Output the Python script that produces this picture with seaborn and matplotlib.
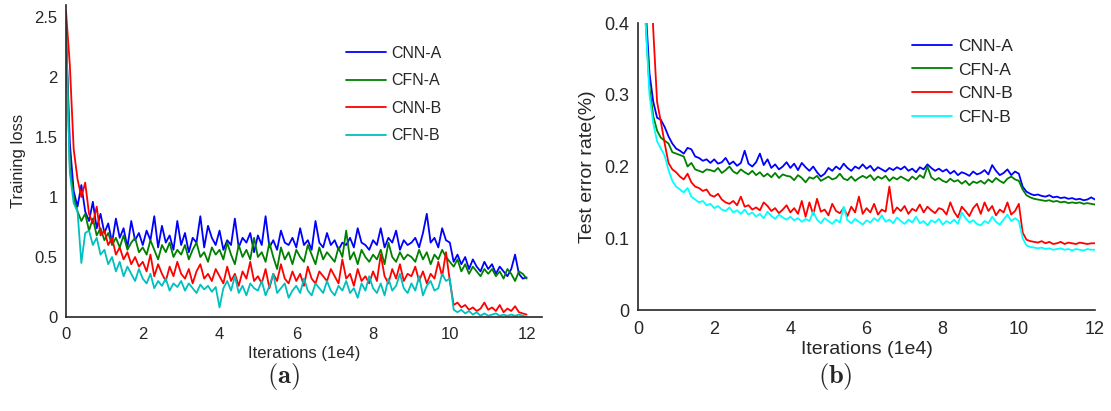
import numpy as np
import pandas as pd
import matplotlib
matplotlib.use("Agg")
import matplotlib.pyplot as plt
import seaborn as sns

# ---- data ----
series_names = ["CNN-A", "CFN-A", "CNN-B", "CFN-B"]

# (a) training loss, x = 0.0 .. 12.0 (step 0.1, in 1e4 iterations)
train_x = np.round(np.arange(121) * 0.1, 1)
train_cnn_a = [
    2.35, 1.45, 1.05, 0.92, 1.10, 0.88, 0.80, 0.96, 0.74, 0.86,
    0.70, 0.78, 0.62, 0.82, 0.66, 0.74, 0.58, 0.80, 0.64, 0.70,
    0.60, 0.72, 0.64, 0.84, 0.58, 0.76, 0.62, 0.68, 0.56, 0.80,
    0.60, 0.70, 0.54, 0.66, 0.62, 0.84, 0.58, 0.76, 0.66, 0.60,
    0.72, 0.56, 0.64, 0.60, 0.82, 0.58, 0.66, 0.62, 0.70, 0.54,
    0.68, 0.60, 0.84, 0.58, 0.64, 0.56, 0.72, 0.62, 0.60, 0.66,
    0.58, 0.74, 0.60, 0.64, 0.56, 0.80, 0.62, 0.58, 0.70, 0.60,
    0.64, 0.56, 0.62, 0.60, 0.66, 0.58, 0.74, 0.62, 0.60, 0.56,
    0.64, 0.60, 0.74, 0.58, 0.66, 0.62, 0.72, 0.56, 0.64, 0.60,
    0.62, 0.66, 0.58, 0.70, 0.86, 0.62, 0.66, 0.58, 0.74, 0.64,
    0.62, 0.46, 0.52, 0.44, 0.50, 0.40, 0.48, 0.42, 0.38, 0.46,
    0.40, 0.44, 0.36, 0.42, 0.38, 0.34, 0.40, 0.52, 0.36, 0.32,
    0.33]
train_cfn_a = [
    2.40, 1.25, 1.00, 0.88, 0.80, 0.86, 0.72, 0.82, 0.68, 0.74,
    0.64, 0.70, 0.60, 0.66, 0.58, 0.68, 0.56, 0.62, 0.66, 0.54,
    0.58, 0.52, 0.64, 0.56, 0.48, 0.60, 0.54, 0.62, 0.50, 0.56,
    0.52, 0.60, 0.48, 0.56, 0.62, 0.50, 0.54, 0.46, 0.58, 0.52,
    0.56, 0.48, 0.62, 0.52, 0.44, 0.60, 0.50, 0.56, 0.48, 0.66,
    0.50, 0.54, 0.46, 0.62, 0.50, 0.40, 0.58, 0.48, 0.54, 0.44,
    0.56, 0.50, 0.46, 0.60, 0.52, 0.44, 0.58, 0.48, 0.54, 0.50,
    0.46, 0.58, 0.50, 0.72, 0.48, 0.54, 0.44, 0.56, 0.50, 0.46,
    0.52, 0.48, 0.56, 0.44, 0.62, 0.50, 0.46, 0.54, 0.48, 0.52,
    0.50, 0.46, 0.56, 0.48, 0.54, 0.44, 0.52, 0.48, 0.56, 0.50,
    0.46, 0.42, 0.48, 0.38, 0.44, 0.36, 0.42, 0.38, 0.34, 0.40,
    0.36, 0.40, 0.34, 0.38, 0.32, 0.40, 0.36, 0.30, 0.38, 0.36,
    0.32]
train_cnn_b = [
    2.55, 2.10, 1.40, 1.15, 1.00, 1.12, 0.86, 0.78, 0.92, 0.68,
    0.72, 0.60, 0.66, 0.52, 0.58, 0.48, 0.54, 0.44, 0.50, 0.42,
    0.46, 0.38, 0.52, 0.34, 0.44, 0.36, 0.30, 0.42, 0.34, 0.46,
    0.36, 0.32, 0.40, 0.28, 0.38, 0.44, 0.32, 0.36, 0.30, 0.40,
    0.34, 0.28, 0.42, 0.30, 0.36, 0.26, 0.38, 0.32, 0.46, 0.30,
    0.34, 0.28, 0.40, 0.24, 0.36, 0.30, 0.44, 0.32, 0.28, 0.38,
    0.30, 0.36, 0.26, 0.42, 0.32, 0.28, 0.38, 0.34, 0.30, 0.40,
    0.34, 0.28, 0.48, 0.32, 0.36, 0.26, 0.40, 0.30, 0.34, 0.28,
    0.38, 0.30, 0.52, 0.34, 0.28, 0.40, 0.32, 0.44, 0.30, 0.36,
    0.34, 0.42, 0.30, 0.38, 0.28, 0.36, 0.32, 0.46, 0.34, 0.54,
    0.30, 0.10, 0.12, 0.08, 0.10, 0.06, 0.08, 0.05, 0.07, 0.12,
    0.06, 0.08, 0.05, 0.10, 0.04, 0.07, 0.05, 0.09, 0.04, 0.03,
    0.02]
train_cfn_b = [
    2.35, 1.20, 0.95, 0.88, 0.45, 0.70, 0.72, 0.60, 0.66, 0.52,
    0.56, 0.44, 0.50, 0.38, 0.46, 0.34, 0.42, 0.36, 0.30, 0.40,
    0.32, 0.28, 0.36, 0.24, 0.30, 0.26, 0.32, 0.22, 0.28, 0.25,
    0.30, 0.22, 0.28, 0.24, 0.20, 0.27, 0.23, 0.26, 0.21, 0.25,
    0.08, 0.24, 0.30, 0.22, 0.34, 0.20, 0.26, 0.18, 0.28, 0.24,
    0.22, 0.30, 0.18, 0.26, 0.36, 0.20, 0.24, 0.28, 0.16, 0.22,
    0.26, 0.20, 0.32, 0.22, 0.18, 0.28, 0.24, 0.20, 0.30, 0.22,
    0.18, 0.26, 0.22, 0.30, 0.20, 0.24, 0.16, 0.28, 0.22, 0.34,
    0.24, 0.20, 0.28, 0.18, 0.32, 0.22, 0.26, 0.36, 0.24, 0.20,
    0.28, 0.22, 0.34, 0.18, 0.26, 0.30, 0.22, 0.24, 0.36, 0.30,
    0.32, 0.06, 0.04, 0.06, 0.03, 0.05, 0.02, 0.04, 0.01, 0.03,
    0.01, 0.02, 0.03, 0.01, 0.02, 0.01, 0.02, 0.01, 0.02, 0.01,
    0.00]

# (b) test error rate, x = 0.2 .. 12.0 (step 0.1)
test_x = np.round(np.arange(2, 121) * 0.1, 1)
test_cnn_a = [
    0.420, 0.330, 0.290, 0.268, 0.265, 0.255, 0.242, 0.232,
    0.225, 0.222, 0.218, 0.226, 0.224, 0.214, 0.212, 0.208, 0.210, 0.205,
    0.210, 0.204, 0.206, 0.212, 0.203, 0.207, 0.201, 0.205, 0.222, 0.204,
    0.200, 0.206, 0.218, 0.202, 0.210, 0.198, 0.203, 0.196, 0.200, 0.206,
    0.198, 0.204, 0.195, 0.205, 0.199, 0.194, 0.200, 0.192, 0.186, 0.190,
    0.198, 0.194, 0.200, 0.196, 0.204, 0.198, 0.194, 0.200, 0.197, 0.203,
    0.197, 0.201, 0.194, 0.199, 0.196, 0.193, 0.198, 0.195, 0.199, 0.196,
    0.200, 0.194, 0.197, 0.192, 0.199, 0.196, 0.203, 0.198, 0.194, 0.197,
    0.193, 0.196, 0.190, 0.194, 0.188, 0.192, 0.190, 0.187, 0.193, 0.189,
    0.191, 0.195, 0.189, 0.202, 0.194, 0.188, 0.191, 0.196, 0.188, 0.193,
    0.190, 0.172, 0.165, 0.162, 0.160, 0.161, 0.159, 0.158, 0.160, 0.157,
    0.158, 0.156, 0.157, 0.155, 0.156, 0.154, 0.155, 0.153, 0.154, 0.157,
    0.154]
test_cfn_a = [
    0.400, 0.310, 0.270, 0.250, 0.240, 0.236, 0.232, 0.220,
    0.218, 0.216, 0.214, 0.200, 0.205, 0.196, 0.194, 0.192, 0.196, 0.195,
    0.193, 0.198, 0.191, 0.195, 0.200, 0.193, 0.190, 0.196, 0.192, 0.189,
    0.194, 0.188, 0.192, 0.186, 0.190, 0.185, 0.191, 0.184, 0.189, 0.187,
    0.186, 0.181, 0.188, 0.184, 0.178, 0.185, 0.183, 0.187, 0.180, 0.183,
    0.186, 0.182, 0.184, 0.190, 0.183, 0.181, 0.186, 0.180, 0.184, 0.187,
    0.184, 0.188, 0.181, 0.186, 0.183, 0.187, 0.180, 0.185, 0.182, 0.186,
    0.183, 0.180, 0.186, 0.182, 0.188, 0.184, 0.200, 0.185, 0.181, 0.184,
    0.180, 0.178, 0.183, 0.179, 0.181, 0.176, 0.180, 0.174, 0.179, 0.177,
    0.180, 0.176, 0.182, 0.178, 0.184, 0.180, 0.177, 0.183, 0.186, 0.182,
    0.180, 0.168, 0.160, 0.157, 0.155, 0.154, 0.153, 0.152, 0.153, 0.151,
    0.152, 0.150, 0.151, 0.149, 0.150, 0.149, 0.150, 0.148, 0.149, 0.148,
    0.147]
test_cnn_b = [
    0.620, 0.500, 0.390, 0.290, 0.262, 0.232, 0.205, 0.196,
    0.192, 0.186, 0.182, 0.190, 0.178, 0.172, 0.170, 0.166, 0.168, 0.160,
    0.158, 0.162, 0.154, 0.150, 0.148, 0.152, 0.146, 0.158, 0.144, 0.146,
    0.140, 0.143, 0.139, 0.150, 0.145, 0.138, 0.142, 0.135, 0.140, 0.146,
    0.136, 0.142, 0.134, 0.152, 0.130, 0.150, 0.133, 0.155, 0.137, 0.140,
    0.132, 0.148, 0.138, 0.135, 0.142, 0.131, 0.144, 0.136, 0.158, 0.134,
    0.142, 0.136, 0.148, 0.133, 0.140, 0.137, 0.172, 0.135, 0.143, 0.138,
    0.145, 0.134, 0.141, 0.138, 0.147, 0.136, 0.144, 0.139, 0.135, 0.142,
    0.140, 0.133, 0.150, 0.137, 0.129, 0.144, 0.138, 0.131, 0.142, 0.148,
    0.134, 0.150, 0.138, 0.145, 0.132, 0.140, 0.136, 0.150, 0.133, 0.138,
    0.148, 0.108, 0.098, 0.096, 0.095, 0.094, 0.096, 0.093, 0.095, 0.092,
    0.093, 0.095, 0.092, 0.094, 0.093, 0.092, 0.094, 0.093, 0.092, 0.093,
    0.093]
test_cfn_b = [
    0.400, 0.300, 0.260, 0.235, 0.225, 0.215, 0.195, 0.180,
    0.172, 0.168, 0.164, 0.170, 0.158, 0.154, 0.150, 0.152, 0.146, 0.148,
    0.142, 0.145, 0.140, 0.138, 0.143, 0.136, 0.139, 0.134, 0.140, 0.133,
    0.136, 0.130, 0.134, 0.128, 0.137, 0.131, 0.127, 0.133, 0.129, 0.126,
    0.130, 0.125, 0.128, 0.123, 0.127, 0.124, 0.137, 0.126, 0.121, 0.128,
    0.124, 0.120, 0.126, 0.122, 0.144, 0.125, 0.121, 0.127, 0.123, 0.119,
    0.125, 0.122, 0.128, 0.124, 0.132, 0.123, 0.126, 0.121, 0.129, 0.124,
    0.120, 0.126, 0.122, 0.130, 0.121, 0.124, 0.118, 0.125, 0.122, 0.127,
    0.119, 0.124, 0.121, 0.126, 0.120, 0.136, 0.128, 0.122, 0.125, 0.120,
    0.118, 0.124, 0.121, 0.130, 0.123, 0.119, 0.126, 0.133, 0.124, 0.128,
    0.124, 0.100, 0.090, 0.088, 0.087, 0.086, 0.087, 0.085, 0.086, 0.084,
    0.085, 0.086, 0.084, 0.085, 0.083, 0.085, 0.084, 0.083, 0.085, 0.084,
    0.084]


def to_long(x, values):
    """Stack the four series into one long frame for seaborn"""
    frames = []
    for name, vals in zip(series_names, values):
        frames.append(pd.DataFrame({"x": x, "y": vals, "model": name}))
    return pd.concat(frames, ignore_index=True)


df_train = to_long(train_x, [train_cnn_a, train_cfn_a, train_cnn_b, train_cfn_b])
df_test = to_long(test_x, [test_cnn_a, test_cfn_a, test_cnn_b, test_cfn_b])

pal_train = {"CNN-A": "#0000ff", "CFN-A": "#008000", "CNN-B": "#ff0000", "CFN-B": "#00bfbf"}
pal_test = {"CNN-A": "#0000ff", "CFN-A": "#008000", "CNN-B": "#ff0000", "CFN-B": "#00ffff"}

sns.set_style("white")
plt.rcParams["font.family"] = ["Liberation Sans", "DejaVu Sans"]
plt.rcParams["mathtext.fontset"] = "cm"
plt.rcParams["axes.edgecolor"] = "#262626"
plt.rcParams["xtick.color"] = "#262626"
plt.rcParams["ytick.color"] = "#262626"

fig = plt.figure(figsize=(11.11, 4.11), dpi=100)
ax1 = fig.add_axes([0.0594, 0.2287, 0.4284, 0.759])
ax2 = fig.add_axes([0.5743, 0.2457, 0.4113, 0.6983])

sns.lineplot(data=df_train, x="x", y="y", hue="model", palette=pal_train,
             linewidth=1.3, ax=ax1, sort=False)
sns.lineplot(data=df_test, x="x", y="y", hue="model", palette=pal_test,
             linewidth=1.3, ax=ax2, sort=False)

for ax in (ax1, ax2):
    sns.despine(ax=ax)
    ax.spines["left"].set_linewidth(1.2)
    ax.spines["bottom"].set_linewidth(1.2)
    ax.tick_params(direction="in", length=5, width=1.0)
    ax.tick_params(axis="y", pad=6)

ax1.tick_params(axis="x", pad=7)
ax2.tick_params(axis="x", pad=8)

ax1.set_xlim(0, 12.4)
ax1.set_ylim(0, 2.6)
ax1.set_xticks(range(0, 13, 2))
ax1.set_yticks([0, 0.5, 1, 1.5, 2, 2.5])
ax1.set_yticklabels(["0", "0.5", "1", "1.5", "2", "2.5"])
ax1.tick_params(labelsize=12)
ax1.set_xlabel("Iterations (1e4)", fontsize=12, labelpad=3)
ax1.set_ylabel("Training loss", fontsize=12, labelpad=6)
ax1.legend(frameon=False, loc="upper left", bbox_to_anchor=(0.575, 0.89),
           fontsize=11.5, handlelength=2.5, handletextpad=0.35,
           labelspacing=0.78, borderaxespad=0)

ax2.set_xlim(0, 12)
ax2.set_ylim(0, 0.4)
ax2.set_xticks(range(0, 13, 2))
ax2.set_yticks([0, 0.1, 0.2, 0.3, 0.4])
ax2.set_yticklabels(["0", "0.1", "0.2", "0.3", "0.4"])
ax2.tick_params(labelsize=13)
ax2.set_xlabel("Iterations (1e4)", fontsize=14, labelpad=2)
ax2.set_ylabel("Test error rate(%)", fontsize=14, labelpad=6)
ax2.legend(frameon=False, loc="upper left", bbox_to_anchor=(0.585, 0.97),
           fontsize=12.5, handlelength=2.3, handletextpad=0.35,
           labelspacing=0.5, borderaxespad=0)

fig.text(0.2547, 0.085, r"$\mathbf{(a)}$", ha="center", va="center", fontsize=19)
fig.text(0.7516, 0.085, r"$\mathbf{(b)}$", ha="center", va="center", fontsize=19)

fig.savefig("out.png", dpi=100)
